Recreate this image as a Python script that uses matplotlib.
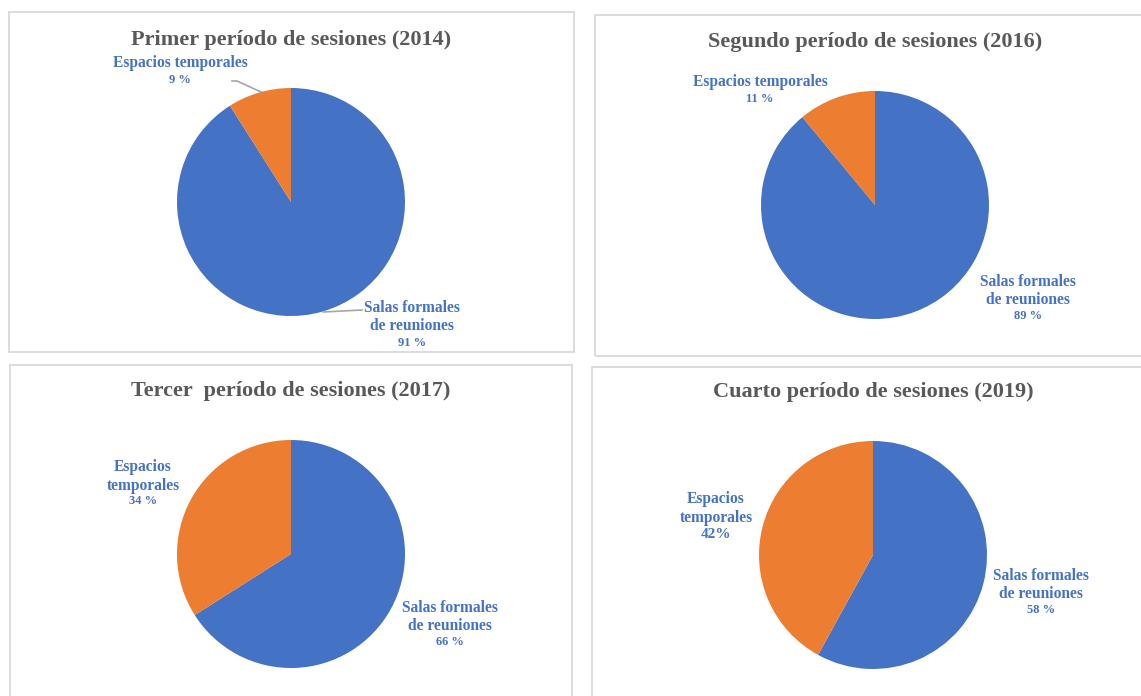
import matplotlib.pyplot as plt
from matplotlib.patches import Rectangle

W, H = 1141, 696

titles = ["Primer período de sesiones (2014)", "Segundo período de sesiones (2016)",
          "Tercer  período de sesiones (2017)", "Cuarto período de sesiones (2019)"]
salas_name = "Salas formales\nde reuniones"
esp_names = ["Espacios temporales", "Espacios temporales", "Espacios\ntemporales", "Espacios\ntemporales"]
salas = [91, 89, 66, 58]
espacios = [9, 11, 34, 42]
pct_labels_salas = ["91 %", "89 %", "66 %", "58 %"]
pct_labels_esp = ["9 %", "11 %", "34 %", "42%"]

blue = "#4472C4"
orange = "#ED7D31"
title_col = "#595959"
border_col = "#D9D9D9"

# layout in pixels (y from top)
panels = [(9, 12, 574, 352), (595, 15, 1150, 356), (10, 365, 572, 710), (592, 367, 1150, 710)]
centers = [(291, 202), (875, 205), (291, 554), (873, 555)]
radius = 114
title_y = [40, 42, 391, 392]
# label anchors: x, y of first name line, y of percent line
esp_pos = [(180, 63, 80), (760, 82, 99), (143, 467, 501), (716, 499, 535)]
sal_pos = [(412, 308, 343), (1028, 282, 316), (450, 608, 642), (1041, 576, 610)]
pct_size = [9, 9, 9, 11]
line_gap = 18.5

fig = plt.figure(figsize=(W / 100, H / 100), dpi=100)
ax = fig.add_axes([0, 0, 1, 1])

font = "Liberation Serif"


def put_label(x, y_first, y_pct, name, pct, psize):
    for k, line in enumerate(name.split("\n")):
        ax.text(x, H - (y_first + k * line_gap), line, ha="center", va="center",
                fontsize=11.2, fontweight="bold", color=blue, family=font)
    ax.text(x, H - y_pct, pct, ha="center", va="center",
            fontsize=psize, fontweight="bold", color=blue, family=font)


for i in range(4):
    x0, y0, x1, y1 = panels[i]
    ax.add_patch(Rectangle((x0, H - y1), x1 - x0, y1 - y0, fill=False,
                           edgecolor=border_col, linewidth=1.3, zorder=0))
    cx, cy = centers[i]
    ax.pie([salas[i], espacios[i]], colors=[blue, orange], startangle=90,
           counterclock=False, center=(cx, H - cy), radius=radius,
           wedgeprops=dict(linewidth=0), frame=True)
    ax.text(cx, H - title_y[i], titles[i], ha="center", va="center",
            fontsize=16, fontweight="bold", color=title_col, family=font)

    ex, ey, ep = esp_pos[i]
    put_label(ex, ey, ep, esp_names[i], pct_labels_esp[i], pct_size[i])
    sx, sy, sp = sal_pos[i]
    put_label(sx, sy, sp, salas_name, pct_labels_salas[i], pct_size[i] if i < 3 else 9)

# leader lines for the first chart
ax.plot([232, 237, 261], [H - 81, H - 81, H - 92], color="#A6A6A6", linewidth=1.2)
ax.plot([323, 362], [H - 312, H - 310], color="#A6A6A6", linewidth=1.2)

ax.set_xlim(0, W)
ax.set_ylim(0, H)
ax.set_aspect("auto")
ax.axis("off")

fig.savefig("out.png", dpi=100)
